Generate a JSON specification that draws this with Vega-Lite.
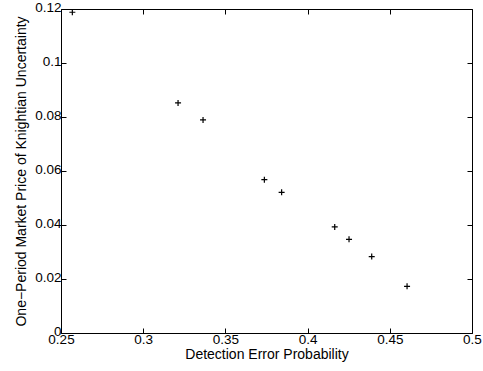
{
  "$schema": "https://vega.github.io/schema/vega-lite/v6.json",
  "width": 411,
  "height": 324,
  "autosize": "none",
  "padding": {"left": 61, "top": 9, "right": 11, "bottom": 38},
  "background": "white",
  "config": {
    "view": {"stroke": "black", "strokeWidth": 1},
    "font": "Liberation Sans",
    "axis": {
      "grid": false,
      "domain": false,
      "tickColor": "black",
      "tickSize": -5,
      "tickWidth": 1,
      "labelColor": "black",
      "labelFont": "Liberation Sans",
      "labelFontSize": 13.5,
      "labelFlush": false,
      "labelOverlap": false,
      "labelBound": false,
      "titleFont": "Liberation Sans",
      "titleFontSize": 14,
      "titleFontWeight": "normal",
      "titleColor": "black"
    }
  },
  "data": {
    "values": [
      {"dep": 0.2569, "price": 0.1188},
      {"dep": 0.3212, "price": 0.0852},
      {"dep": 0.3364, "price": 0.0789},
      {"dep": 0.3737, "price": 0.0568},
      {"dep": 0.3842, "price": 0.0521},
      {"dep": 0.4165, "price": 0.0393},
      {"dep": 0.4252, "price": 0.0347},
      {"dep": 0.4390, "price": 0.0283},
      {"dep": 0.4605, "price": 0.0173}
    ]
  },
  "layer": [
    {
      "mark": {"type": "point", "shape": "M-1,0H1M0,-1V1", "filled": false, "stroke": "black", "strokeWidth": 1.2, "size": 36, "opacity": 1},
      "encoding": {
        "x": {"field": "dep", "type": "quantitative", "scale": {"domain": [0.25, 0.5], "nice": false, "zero": false},
          "axis": {"orient": "bottom", "values": [0.25, 0.3, 0.35, 0.4, 0.45, 0.5], "format": ".2~f", "labelPadding": 4, "title": "Detection Error Probability", "titlePadding": 2}},
        "y": {"field": "price", "type": "quantitative", "scale": {"domain": [0, 0.12], "nice": false},
          "axis": {"orient": "left", "values": [0, 0.02, 0.04, 0.06, 0.08, 0.1, 0.12], "format": ".2~f", "labelPadding": 5, "labelBaseline": "middle", "labelOffset": -2, "title": "One−Period Market Price of Knightian Uncertainty", "titlePadding": 6}}
      }
    },
    {
      "mark": {"type": "point", "opacity": 0},
      "encoding": {
        "x": {"field": "dep", "type": "quantitative", "axis": {"orient": "top", "values": [0.25, 0.3, 0.35, 0.4, 0.45, 0.5], "labels": false, "title": null}},
        "y": {"field": "price", "type": "quantitative", "axis": {"orient": "right", "values": [0, 0.02, 0.04, 0.06, 0.08, 0.1, 0.12], "labels": false, "title": null}}
      }
    }
  ],
  "resolve": {"axis": {"x": "independent", "y": "independent"}}
}
